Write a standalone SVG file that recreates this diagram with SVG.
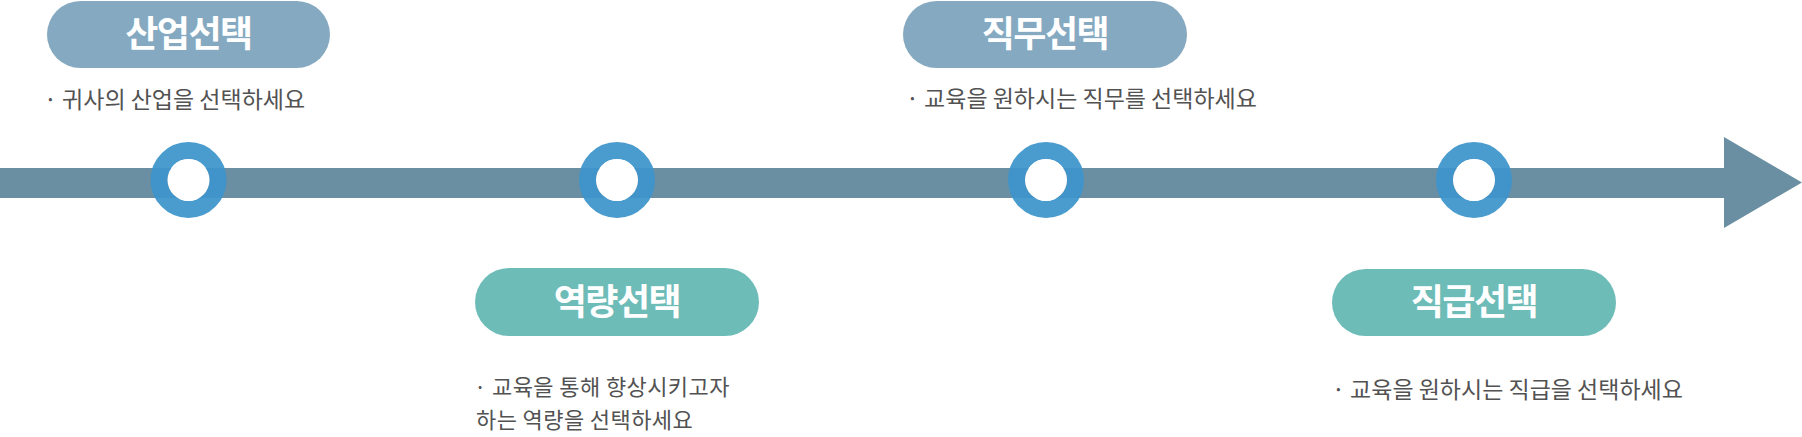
<svg xmlns="http://www.w3.org/2000/svg" width="1802" height="437" viewBox="0 0 1802 437">
  <style>
    .pill-top { fill: #84a9c1; }
    .pill-bot { fill: #6ebcb8; }
    .title { font-family: "Noto Sans CJK KR", "Noto Sans", sans-serif; font-weight: 700; font-size: 36px; letter-spacing: -1.5px; fill: #ffffff; text-anchor: middle; }
    .desc { font-family: "Noto Sans CJK KR", "Noto Sans", sans-serif; font-weight: 400; font-size: 23px; fill: #525252; }
    .desc2 { font-family: "Noto Sans CJK KR", "Noto Sans", sans-serif; font-weight: 400; font-size: 22px; letter-spacing: 0.4px; fill: #525252; }
    .ring { fill: none; stroke: #3f95cb; stroke-width: 17; opacity: 0.94; }
    .hole { fill: #ffffff; }
  </style>
  <rect width="1802" height="437" fill="#ffffff"/>
  <g id="connectors">
    <rect x="0" y="168" width="1726" height="30" fill="#6a8fa2"/>
    <polygon points="1724,137 1802,182.5 1724,228" fill="#6a8fa2"/>
  </g>
  <g id="node-1">
    <circle class="ring" cx="188.5" cy="180" r="29.5"/>
    <circle class="hole" cx="188.5" cy="180" r="21"/>
    <rect class="pill-top" x="47" y="1" width="283" height="67" rx="33.5"/>
    <text class="title" x="188.5" y="47">산업선택</text>
    <text class="desc" x="44" y="108">· 귀사의 산업을 선택하세요</text>
  </g>
  <g id="node-2">
    <circle class="ring" cx="617" cy="180" r="29.5"/>
    <circle class="hole" cx="617" cy="180" r="21"/>
    <rect class="pill-bot" x="475" y="268" width="284" height="68" rx="34"/>
    <text class="title" x="617" y="315">역량선택</text>
    <text class="desc2" x="474" y="395">· 교육을 통해 향상시키고자</text>
    <text class="desc2" x="476" y="428">하는 역량을 선택하세요</text>
  </g>
  <g id="node-3">
    <circle class="ring" cx="1046" cy="180" r="29.5"/>
    <circle class="hole" cx="1046" cy="180" r="21"/>
    <rect class="pill-top" x="903" y="1" width="284" height="67" rx="33.5"/>
    <text class="title" x="1045" y="47">직무선택</text>
    <text class="desc" x="906" y="107">· 교육을 원하시는 직무를 선택하세요</text>
  </g>
  <g id="node-4">
    <circle class="ring" cx="1474" cy="180" r="29.5"/>
    <circle class="hole" cx="1474" cy="180" r="21"/>
    <rect class="pill-bot" x="1332" y="269" width="284" height="67" rx="33.5"/>
    <text class="title" x="1474" y="315">직급선택</text>
    <text class="desc" x="1332" y="398">· 교육을 원하시는 직급을 선택하세요</text>
  </g>
</svg>
